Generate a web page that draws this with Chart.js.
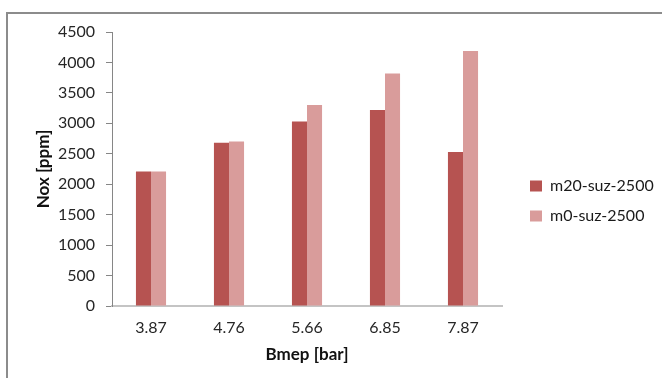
<!DOCTYPE html>
<html>
<head>
<meta charset="utf-8">
<script src="https://cdn.jsdelivr.net/npm/chart.js@4/dist/chart.umd.min.js"></script>
<style>
  html, body { margin: 0; padding: 0; background: #fff; overflow: hidden; }
  #marco {
    position: absolute; left: 6px; top: 12px; width: 720px; height: 420px;
    border-top: 2px solid #8c8c8c; border-left: 2px solid #8c8c8c;
  }
  #lienzo { position: absolute; left: 0; top: 0; width: 662px; height: 378px; }
</style>
</head>
<body>
<div id="marco"></div>
<div id="lienzo"><canvas id="myChart1" width="662" height="378"></canvas></div>
<script>
// Datos
const categorias = ["3.87", "4.76", "5.66", "6.85", "7.87"];
const m20Suz = [2210, 2680, 3030, 3220, 2530];
const m0Suz = [2210, 2700, 3300, 3820, 4190];
const serie1 = "m20-suz-2500";
const serie2 = "m0-suz-2500";
const tituloY = "Nox [ppm]";
const tituloX = "Bmep [bar]";

const fuente = "Lato, 'Open Sans', sans-serif";

// Coloca la leyenda a la derecha con ancho fijo
const leyendaFija = {
  id: "leyendaFija",
  beforeLayout(chart) {
    const lg = chart.legend;
    if (!lg || lg._fijo) return;
    const fit = lg.fit;
    lg.fit = function () {
      fit.call(this);
      this.width = 160;
    };
    lg._fijo = true;
  },
  afterLayout(chart) {
    const lg = chart.legend;
    lg.left += 14;
    lg.right += 14;
    lg.top -= 4;
    lg.bottom -= 4;
  },
};

const ctx = document.getElementById("myChart1").getContext("2d");
const myChart1 = new Chart(ctx, {
  type: "bar",
  data: {
    labels: categorias,
    datasets: [
      {
        label: serie1,
        data: m20Suz,
        backgroundColor: "#B65351",
        categoryPercentage: 0.386,
        barPercentage: 1,
      },
      {
        label: serie2,
        data: m0Suz,
        backgroundColor: "#D99C9B",
        categoryPercentage: 0.386,
        barPercentage: 1,
      },
    ],
  },
  options: {
    responsive: false,
    animation: false,
    layout: { padding: { left: 28, top: 32, right: 0, bottom: 0 } },
    plugins: {
      tooltip: { enabled: false },
      legend: {
        position: "right",
        labels: {
          boxWidth: 12,
          boxHeight: 11,
          padding: 14,
          color: "#1a1a1a",
          font: { family: fuente, size: 16 },
        },
      },
    },
    scales: {
      x: {
        grid: { display: false, drawTicks: false },
        border: { display: true, color: "#c4c4c4", width: 2 },
        ticks: { color: "#262626", padding: 12, font: { family: fuente, size: 16 } },
        title: {
          display: true,
          text: tituloX,
          color: "#111",
          font: { family: fuente, size: 17, weight: "bold" },
          padding: { top: 0, bottom: 13 },
        },
        afterFit(scale) {
          scale.height = 72;
        },
      },
      y: {
        min: 0,
        max: 4500,
        grid: { drawOnChartArea: false, drawTicks: true, tickLength: 6, color: "#868686" },
        border: { display: true, color: "#868686", width: 1 },
        ticks: {
          stepSize: 500,
          color: "#262626",
          padding: 11,
          font: { family: fuente, size: 16 },
          callback: (v) => String(v),
        },
        title: {
          display: true,
          text: tituloY,
          color: "#111",
          font: { family: fuente, size: 17, weight: "bold" },
          padding: { top: 5, bottom: 0 },
        },
        afterFit(scale) {
          scale.width = 84;
        },
      },
    },
  },
  plugins: [leyendaFija],
});
</script>
</body>
</html>
